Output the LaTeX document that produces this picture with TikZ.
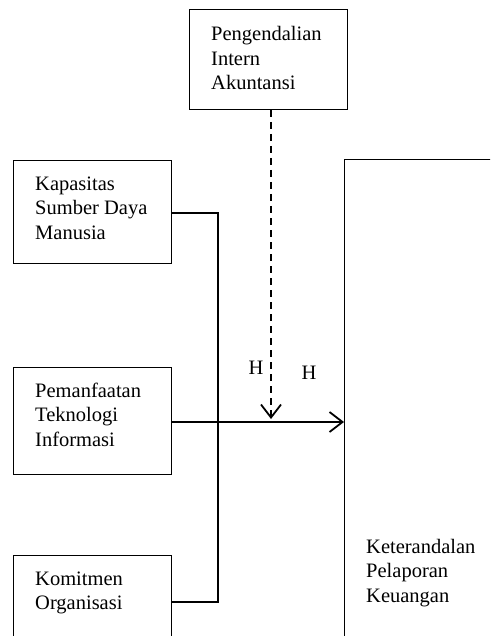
\documentclass[tikz,border=0pt]{standalone}
\usepackage{fontspec}
\setmainfont{Liberation Serif}
\usetikzlibrary{arrows.meta}
\begin{document}
\begin{tikzpicture}[x=1pt,y=-1pt,
  box/.style={draw,line width=1pt,inner sep=0pt},
  txt/.style={anchor=base west,align=left,inner sep=0pt,font=\fontsize{20.5pt}{24.5pt}\selectfont},
  conn/.style={line width=1.8pt},
  tip/.style={-{Straight Barb[length=13pt,width=20pt,line width=1.8pt]}}]
\useasboundingbox (0,0) rectangle (490,636);
\clip (0,0) rectangle (490,636);
% boxes
\node[box,minimum width=158pt,minimum height=100pt] (pia) at (268,60) {};
\node[box,minimum width=158pt,minimum height=102pt] (ksdm) at (92,212) {};
\node[box,minimum width=158pt,minimum height=107pt] (pti) at (92,420.5) {};
\node[box,minimum width=158pt,minimum height=94pt] (ko) at (92,602) {};
\draw[line width=1pt] (344,160) rectangle (560,720);
\coordinate (krw) at (344,422);
% texts (anchored at the baseline of the last line)
\node[txt] (tpia) at (211,90) {Pengendalian\\Intern\\Akuntansi};
\node[txt] (tksdm) at (35,239) {Kapasitas\\Sumber Daya\\Manusia};
\node[txt] (tpti) at (35,446) {Pemanfaatan\\Teknologi\\Informasi};
\node[txt] (tko) at (35,609.5) {Komitmen\\Organisasi};
\node[txt] (tkr) at (366,602) {Keterandalan\\Pelaporan\\Keuangan};
\node[inner sep=0pt,font=\fontsize{20.5pt}{24.5pt}\selectfont] (h1) at (256,368) {H};
\node[inner sep=0pt,font=\fontsize{20.5pt}{24.5pt}\selectfont] (h2) at (309,373) {H};
% connectors
\coordinate (j) at (218,213);
\draw[conn] (171,213) -- (j) -- (218,602) -- (ko.east);
\draw[conn,tip] (pti.east |- krw) -- (krw);
\coordinate (dtip) at (271,419);
\draw[conn,dash pattern=on 7pt off 5pt,tip] (271,110) -- (dtip);
\end{tikzpicture}
\end{document}
